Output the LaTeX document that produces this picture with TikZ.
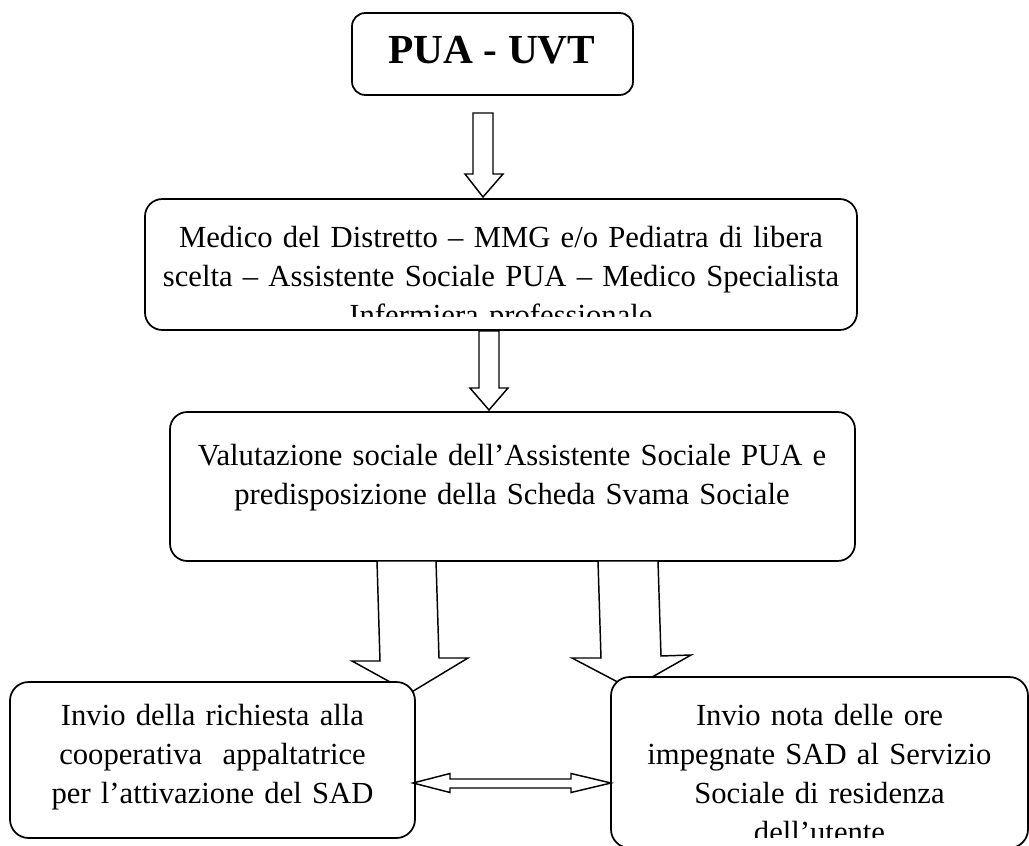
\documentclass[tikz,border=0pt]{standalone}
\usepackage{fontspec}
\setmainfont{Liberation Serif}
\usetikzlibrary{calc}
\begin{document}
\begin{tikzpicture}[x=0.75pt,y=-0.75pt,
  box/.style={draw=black, line width=1.3pt, rounded corners=13pt, fill=white, inner sep=0pt},
  txt/.style={inner sep=0pt, align=center, font=\fontsize{23}{29.25}\selectfont, anchor=base},
  blockarrow/.style={draw=black, line width=1.1pt, fill=white, line join=miter}]
\useasboundingbox (0,0) rectangle (1029,846);

% upper boxes
\node[box, rounded corners=10pt, minimum width=210.75pt, minimum height=61.5pt] (b1) at (492.5,54) {};
\node[box, minimum width=534pt, minimum height=98.25pt] (b2) at (501,264.5) {};
\node[box, minimum width=513.75pt, minimum height=111.75pt] (b3) at (512.5,486.5) {};

% block arrows
\draw[blockarrow] (473,113) -- (493,113) -- (493,174) -- (503,174) -- (483,197) -- (465,174) -- (473,174) -- cycle;
\draw[blockarrow] (479,331) -- (499,331) -- (499,388) -- (508,388) -- (489,410) -- (470,388) -- (479,388) -- cycle;
\draw[blockarrow] (377,561) -- (436,561) -- (439,658) -- (468,658) -- (410,693) -- (352,661) -- (380,661) -- cycle;
\draw[blockarrow] (598,561) -- (658,561) -- (661,656) -- (691,655) -- (631,689) -- (572,658) -- (601,658) -- cycle;

% lower boxes
\node[box, rounded corners=14pt, minimum width=303.75pt, minimum height=117pt] (b4) at (212.5,760) {};
\node[box, rounded corners=14pt, minimum width=312.75pt, minimum height=128.25pt] (b5) at (819.5,762.5) {};

% double arrow
\draw[blockarrow] (413,783) -- (450,773.5) -- (450,779) -- (571,779) -- (571,773.5) -- (611,783)
  -- (571,792.5) -- (571,788) -- (450,788) -- (450,792.5) -- cycle;

% texts
\node[inner sep=0pt, anchor=base, font=\fontsize{31}{37}\selectfont\bfseries] (t1) at (492,63) {PUA - UVT};
\begin{scope}
  \clip (145,199) rectangle (857,316);
  \node[txt, text width=525pt] (t2) at (501,247) {Medico del Distretto – MMG e/o Pediatra di libera\\ scelta – Assistente Sociale PUA – Medico Specialista\\ Infermiera professionale};
\end{scope}
\node[txt, text width=495pt] (t3) at (512,465) {Valutazione sociale dell’Assistente Sociale PUA e\\ predisposizione della Scheda Svama Sociale};
\node[txt, text width=285pt] (t4) at (212.5,725) {Invio della richiesta alla\\ cooperativa\ \ appaltatrice\\ per l’attivazione del SAD};
\begin{scope}
  \clip (611,677) rectangle (1028,837);
  \node[txt, text width=300pt] (t5) at (819.5,725) {Invio nota delle ore\\ impegnate SAD al Servizio\\ Sociale di residenza\\ dell’utente};
\end{scope}
\end{tikzpicture}
\end{document}
